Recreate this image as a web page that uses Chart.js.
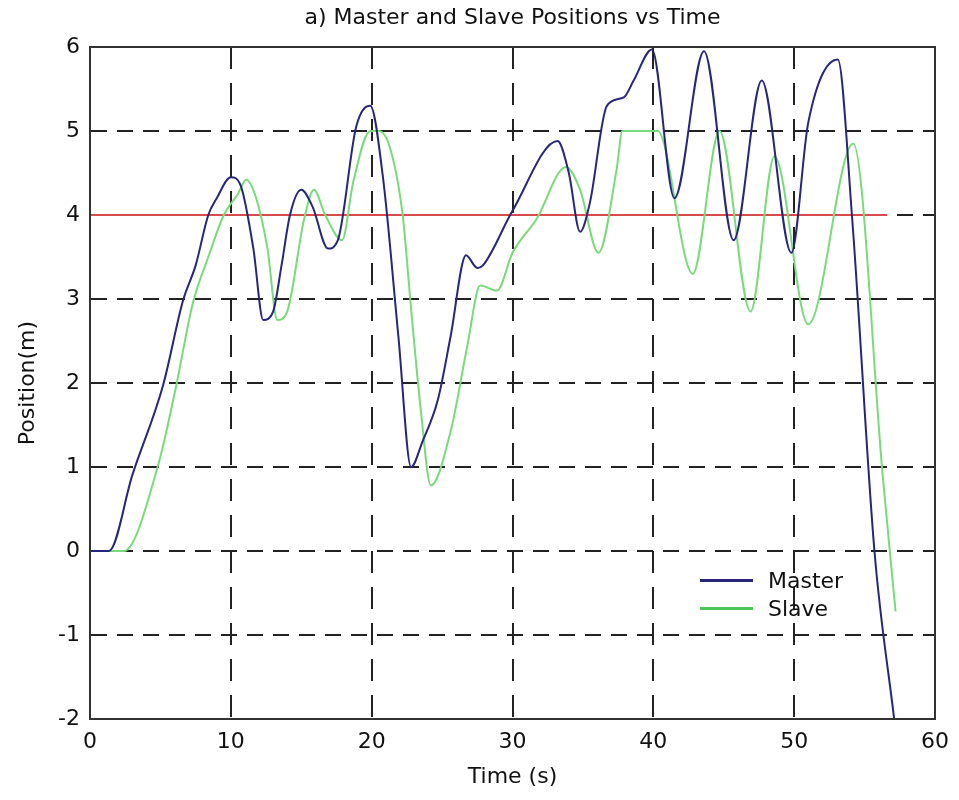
<!DOCTYPE html>
<html>
<head>
<meta charset="utf-8">
<title>Master and Slave Positions vs Time</title>
<script src="https://cdn.jsdelivr.net/npm/chart.js@4"></script>
<style>
    html, body { margin: 0; padding: 0; background: #fff; }
    #wrap { position: relative; width: 959px; height: 800px; }
    .legend-row { position: absolute; left: 700px; height: 26px; display: flex; align-items: center;
        font-family: 'DejaVu Sans', sans-serif; font-size: 22px; color: #111; }
    .legend-row .swatch { width: 53px; height: 3px; margin-right: 15px; }
</style>
</head>
<body>
<div id="wrap">
    <canvas id="posChart" width="959" height="800"></canvas>
    <div class="legend-row" style="top: 567px;"><span class="swatch" style="background:#26267a"></span>Master</div>
    <div class="legend-row" style="top: 595px;"><span class="swatch" style="background:#4cc55c"></span>Slave</div>
</div>
<script>
// Sampled positions (m) against time (s)
const masterTime = [0, 1.35, 3.0, 5.2, 6.6, 7.5, 8.4, 9.0, 10.0, 10.7, 11.6, 12.3, 13.0, 13.6, 14.2, 15.0,
    15.8, 16.9, 17.6, 18.9, 19.9, 20.8, 21.9, 22.8, 23.6, 24.7, 25.6, 26.7, 27.5, 27.9, 30.0, 33.2,
    34.0, 34.8, 35.5, 36.7, 37.9, 38.6, 39.9, 41.5, 43.6, 45.7, 47.7, 49.8, 51.0, 53.1, 54.1, 55.7, 57.1];
const masterPos = [0, 0, 0.9, 1.98, 2.98, 3.4, 4.0, 4.2, 4.45, 4.35, 3.6, 2.75, 2.85, 3.4, 4.0, 4.3,
    4.1, 3.6, 3.7, 5.05, 5.3, 4.45, 2.55, 1.0, 1.3, 1.8, 2.55, 3.52, 3.37, 3.4, 4.05, 4.88,
    4.5, 3.8, 4.15, 5.3, 5.4, 5.6, 5.97, 4.2, 5.95, 3.7, 5.6, 3.55, 5.1, 5.85, 4.0, 0.0, -2.0];

const slaveTime = [0, 2.4, 4.8, 6.1, 7.3, 8.4, 9.5, 10.5, 11.1, 11.8, 12.6, 13.3, 14.0, 15.2, 15.9,
    16.7, 17.9, 18.7, 19.9, 20.5, 21.3, 22.2, 22.8, 23.5, 24.2, 25.6, 26.8, 27.7, 28.9, 30.0, 31.7,
    33.8, 34.8, 36.1, 37.4, 37.8, 40.3, 42.8, 44.7, 46.9, 48.6, 51.0, 54.2, 56.3, 57.2];
const slavePos = [0, 0, 1.0, 1.95, 2.95, 3.5, 4.0, 4.25, 4.42, 4.2, 3.6, 2.75, 2.85, 3.95, 4.3,
    4.0, 3.7, 4.4, 5.0, 5.0, 4.8, 4.0, 2.88, 1.66, 0.78, 1.42, 2.45, 3.16, 3.1, 3.55, 3.95,
    4.57, 4.3, 3.55, 4.55, 5.0, 5.0, 3.3, 5.0, 2.85, 4.7, 2.7, 4.85, 0.87, -0.72];

// Reference level
const refTime = [0, 56.6];
const refPos = [4, 4];

const xTicks = [0, 10, 20, 30, 40, 50, 60];
const yTicks = [-2, -1, 0, 1, 2, 3, 4, 5, 6];

const FONT = "'DejaVu Sans', sans-serif";
const TEXT_COLOR = '#111';

function toPoints(times, values) {
    return times.map((t, i) => ({ x: t, y: values[i] }));
}

// Closes the plot box on the top and right sides as well
const frameBox = {
    id: 'frameBox',
    afterDraw(chart) {
        const { ctx, chartArea: a } = chart;
        ctx.save();
        ctx.strokeStyle = '#333';
        ctx.lineWidth = 2;
        ctx.strokeRect(a.left, a.top, a.right - a.left, a.bottom - a.top);
        ctx.restore();
    }
};

const lineStyle = {
    borderWidth: 2,
    pointRadius: 0,
    fill: false,
    cubicInterpolationMode: 'monotone'
};

const ctx = document.getElementById('posChart').getContext('2d');
new Chart(ctx, {
    type: 'line',
    data: {
        datasets: [
            { label: 'Master', data: toPoints(masterTime, masterPos), borderColor: '#26267a', order: 1, ...lineStyle },
            { label: 'Slave', data: toPoints(slaveTime, slavePos), borderColor: '#7ada7a', order: 2, ...lineStyle },
            { label: 'Reference', data: toPoints(refTime, refPos), borderColor: '#d94a4a', order: 3, ...lineStyle }
        ]
    },
    options: {
        responsive: false,
        animation: false,
        devicePixelRatio: 1,
        layout: { padding: { left: 0, right: 18, top: 0, bottom: 0 } },
        plugins: {
            legend: { display: false },
            tooltip: { enabled: false },
            title: {
                display: true,
                fullSize: false,
                text: 'a) Master and Slave Positions vs Time',
                color: TEXT_COLOR,
                font: { family: FONT, size: 22, weight: 'normal' },
                padding: { top: 5, bottom: 15.6 }
            }
        },
        scales: {
            x: {
                type: 'linear',
                min: xTicks[0],
                max: xTicks[xTicks.length - 1],
                afterBuildTicks: scale => { scale.ticks = xTicks.map(v => ({ value: v })); },
                afterFit: scale => { scale.height = 81; },
                ticks: { color: TEXT_COLOR, font: { family: FONT, size: 22 }, padding: 10 },
                grid: { color: '#222', lineWidth: 2, drawTicks: false },
                border: { display: true, color: '#333', width: 2, dash: [22, 14] },
                title: {
                    display: true,
                    text: 'Time (s)',
                    color: TEXT_COLOR,
                    font: { family: FONT, size: 22 },
                    padding: { top: 0, bottom: 10 }
                }
            },
            y: {
                type: 'linear',
                min: yTicks[0],
                max: yTicks[yTicks.length - 1],
                afterBuildTicks: scale => { scale.ticks = yTicks.map(v => ({ value: v })); },
                afterFit: scale => { scale.width = 90; },
                ticks: { color: TEXT_COLOR, font: { family: FONT, size: 22 }, padding: 10 },
                grid: { color: '#222', lineWidth: 2, drawTicks: false },
                border: { display: true, color: '#333', width: 2, dash: [16, 10] },
                title: {
                    display: true,
                    text: 'Position(m)',
                    color: TEXT_COLOR,
                    font: { family: FONT, size: 22 },
                    padding: { top: 15, bottom: 0 }
                }
            }
        }
    },
    plugins: [frameBox]
});
</script>
</body>
</html>
